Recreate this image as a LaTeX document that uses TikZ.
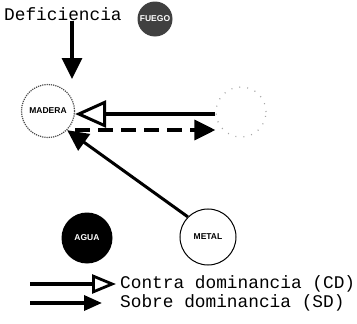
\documentclass[tikz,border=0pt]{standalone}
\usepackage{fontspec}
\setmainfont{Liberation Serif}
\newfontfamily\labelfont{Liberation Mono}
\newfontfamily\tagfont{Liberation Sans}
\usetikzlibrary{arrows.meta}

\tikzset{
    elem/.style={circle, minimum size=#1, inner sep=0pt, font=\tagfont\fontsize{8.5}{8.5}\selectfont\bfseries},
    legendtxt/.style={anchor=west, inner sep=0pt, font=\labelfont\fontsize{17.8}{20}\selectfont},
    sd/.style={line width=3.4pt, -{Triangle[length=21pt, width=20pt]}},
    cd/.style={line width=3.4pt, -{Triangle[open, length=31pt, width=27pt, line width=3pt]}}
}

\begin{document}
\begin{tikzpicture}[x=1pt, y=-1pt]
            \useasboundingbox (0,0) rectangle (357,324);

            % texto de deficiencia
            \node[legendtxt] (defic) at (4,14) {Deficiencia};
            \coordinate (deftip) at (72,79);

            % los elementos
            \node[elem=35pt, fill=black!75, text=white] (fuego) at (155,19) {FUEGO};
            \node[elem=53pt, draw=black!70, densely dotted, line width=1.2pt] (madera) at (48,111) {MADERA};
            \node[elem=50pt, draw=black!35, dash pattern=on 1pt off 7pt, line width=1.2pt] (tierra) at (241,112) {};
            \node[elem=56pt, draw, line width=1pt, fill=white] (metal) at (208,237) {METAL};
            \node[elem=51pt, fill=black, text=white] (agua) at (87,238) {AGUA};

            % flechas
            \draw[sd] (defic.south -| deftip) -- (deftip);
            \draw[cd] (tierra.west |- 0,114) -- (madera.east |- 0,114);
            \draw[sd, dash pattern=on 15pt off 8pt] (madera.east |- 0,130) -- (tierra.west |- 0,130);
            \draw[sd, line width=3pt] (metal.north west) -- (madera.south east);

            % leyenda
            \coordinate (cdstart) at (30,284);
            \coordinate (sdstart) at (30,303);
            \node[legendtxt] (cdtxt) at (120,284) {Contra dominancia (CD)};
            \node[legendtxt] (sdtxt) at (120,303) {Sobre dominancia (SD)};
            \draw[cd, -{Triangle[open, length=24pt, width=19pt, line width=2.8pt]}] (cdstart) -- ([xshift=-4pt]cdtxt.west);
            \draw[sd, -{Triangle[length=18pt, width=15pt]}] (sdstart) -- ([xshift=-18pt]sdtxt.west);
        \end{tikzpicture}
\end{document}
